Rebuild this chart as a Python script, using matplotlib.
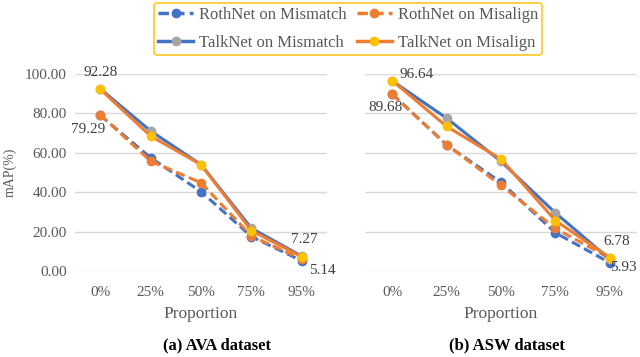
import numpy as np
import matplotlib
matplotlib.use("Agg")
import matplotlib.pyplot as plt
from matplotlib.lines import Line2D

plt.rcParams["font.family"] = ["Liberation Serif", "DejaVu Serif"]

categories = ["0%", "25%", "50%", "75%", "95%"]

# AVA dataset
ava_roth_mismatch = [79.0, 57.5, 40.3, 17.5, 5.14]
ava_roth_misalign = [79.29, 55.8, 44.8, 17.8, 6.0]
ava_talk_mismatch = [92.5, 71.1, 54.0, 21.7, 7.5]
ava_talk_misalign = [92.28, 68.5, 54.0, 20.5, 7.27]

# ASW dataset
asw_roth_mismatch = [89.9, 64.0, 45.0, 19.4, 4.2]
asw_roth_misalign = [89.68, 64.1, 43.5, 21.6, 6.5]
asw_talk_mismatch = [96.5, 77.6, 55.6, 29.5, 5.93]
asw_talk_misalign = [96.64, 73.4, 56.8, 25.6, 6.78]

BLUE = "#4472C4"
ORANGE = "#ED7D31"
GRAY = "#A5A5A5"
GOLD = "#FFC000"
TXT = "#595959"

series_style = [
    ("RothNet on Mismatch", BLUE, BLUE, (0, (3, 1.5))),
    ("RothNet on Misalign", ORANGE, ORANGE, (0, (3, 1.5))),
    ("TalkNet on Mismatch", BLUE, GRAY, "-"),
    ("TalkNet on Misalign", ORANGE, GOLD, "-"),
]

fig = plt.figure(figsize=(6.4, 3.57), dpi=100)
W, H = 640.0, 357.0
ax1 = fig.add_axes([75 / W, 1 - 271 / H, 252 / W, 197 / H])
ax2 = fig.add_axes([365 / W, 1 - 271 / H, 272 / W, 197 / H])

x = np.arange(len(categories))


def draw(ax, data, show_y):
    for (label, lc, mc, ls), vals in zip(series_style, data):
        ax.plot(x, vals, color=lc, linestyle=ls, linewidth=2.2, marker="o",
                markersize=6, markerfacecolor=mc, markeredgecolor=mc, label=label)
    ax.set_xlim(-0.5, len(categories) - 0.5)
    ax.set_ylim(0, 100)
    ax.set_yticks(np.arange(0, 101, 20))
    ax.yaxis.grid(True, color="#D9D9D9", linewidth=1)
    ax.set_axisbelow(True)
    for s in ax.spines.values():
        s.set_visible(False)
    ax.tick_params(axis="y", length=0, labelsize=11, colors=TXT, pad=6)
    ax.tick_params(axis="x", length=0, labelsize=11, colors=TXT, pad=11)
    ax.set_xticks(x)
    ax.set_xticklabels(categories)
    if show_y:
        ax.set_yticklabels([f"{v:.2f}" for v in np.arange(0, 101, 20)])
        ax.set_ylabel("mAP(%)", fontsize=10, color=TXT, labelpad=6)
    else:
        ax.set_yticklabels([])
    ax.set_xlabel("Proportion", fontsize=12.5, color=TXT, labelpad=5)


draw(ax1, [ava_roth_mismatch, ava_roth_misalign, ava_talk_mismatch, ava_talk_misalign], True)
draw(ax2, [asw_roth_mismatch, asw_roth_misalign, asw_talk_mismatch, asw_talk_misalign], False)

ann = dict(fontsize=11, color="#404040", textcoords="offset points")
ax1.annotate(f"{ava_talk_misalign[0]:.2f}", (0, ava_talk_misalign[0]), xytext=(0, 7),
             ha="center", va="bottom", **ann)
ax1.annotate(f"{ava_roth_misalign[0]:.2f}", (0, ava_roth_misalign[0]), xytext=(-9, -6),
             ha="center", va="top", **ann)
ax1.annotate(f"{ava_talk_misalign[4]:.2f}", (4, ava_talk_misalign[4]), xytext=(2, 8),
             ha="center", va="bottom", **ann)
ax1.annotate(f"{ava_roth_mismatch[4]:.2f}", (4, ava_roth_mismatch[4]), xytext=(5, -2),
             ha="left", va="top", **ann)

ax2.annotate(f"{asw_talk_misalign[0]:.2f}", (0, asw_talk_misalign[0]), xytext=(5, 0),
             ha="left", va="bottom", **ann)
ax2.annotate(f"{asw_roth_misalign[0]:.2f}", (0, asw_roth_misalign[0]), xytext=(-5, -5),
             ha="center", va="top", **ann)
ax2.annotate(f"{asw_talk_misalign[4]:.2f}", (4, asw_talk_misalign[4]), xytext=(5, 7),
             ha="center", va="bottom", **ann)
ax2.annotate(f"{asw_talk_mismatch[4]:.2f}", (4, asw_talk_mismatch[4]), xytext=(0, -1),
             ha="left", va="top", **ann)

handles = [Line2D([], [], color=lc, linestyle=ls, linewidth=2.5, marker="o", markersize=6,
                  markerfacecolor=mc, markeredgecolor=mc) for (_, lc, mc, ls) in series_style]
labels = [s[0] for s in series_style]
order = [0, 2, 1, 3]  # legend fills column-wise; reference reads row-wise
leg = fig.legend([handles[i] for i in order], [labels[i] for i in order], ncol=2,
                 loc="upper center", bbox_to_anchor=(348 / W, 1 - 3 / H), borderaxespad=0,
                 frameon=True, fontsize=12, handlelength=2.1, handletextpad=0.35,
                 columnspacing=0.6, labelspacing=0.7, borderpad=0.25, fancybox=True)
leg.get_frame().set_edgecolor(GOLD)
leg.get_frame().set_linewidth(1.3)
for t in leg.get_texts():
    t.set_color(TXT)

fig.text(217 / W, 1 - 345 / H, "(a) AVA dataset", ha="center", va="center",
         fontsize=12, fontweight="bold")
fig.text(507 / W, 1 - 345 / H, "(b) ASW dataset", ha="center", va="center",
         fontsize=12, fontweight="bold")

fig.savefig("out.png", dpi=100)
